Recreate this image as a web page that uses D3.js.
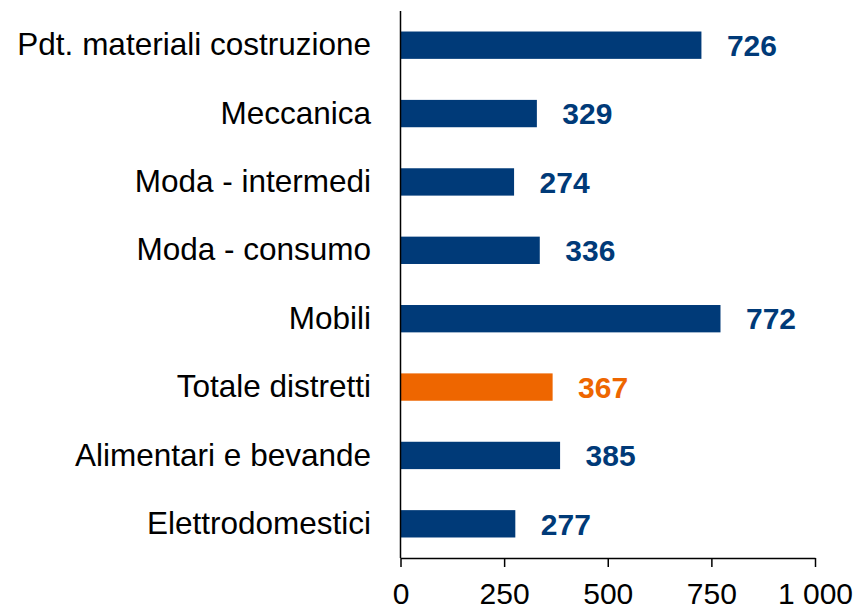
<!DOCTYPE html>
<html><head><meta charset="utf-8">
<script src="https://cdn.jsdelivr.net/npm/d3@7"></script>
<style>body{margin:0;background:#fff}svg{display:block}</style>
</head><body>
<script>
const categories = ["Pdt. materiali costruzione","Meccanica","Moda - intermedi","Moda - consumo","Mobili","Totale distretti","Alimentari e bevande","Elettrodomestici"];
const values = [726,329,274,336,772,367,385,277];
const highlight = ["Totale distretti"];
const tickValues = [0,250,500,750,1000];

const W=856,H=609;
const svg=d3.select("body").append("svg").attr("width",W).attr("height",H);
const x=d3.scaleLinear().domain([0,1000]).range([400.5,815]);
const y=d3.scaleBand().domain(categories).range([11,558]).paddingInner(0.6).paddingOuter(0.3);
const font="Liberation Sans, Arial, sans-serif";
const blue="#003A78", orange="#EE6600";

svg.selectAll("rect.bar").data(categories).join("rect")
  .attr("x",x(0)).attr("y",d=>y(d)).attr("height",y.bandwidth())
  .attr("width",(d,i)=>x(values[i])-x(0))
  .attr("fill",d=>highlight.includes(d)?orange:blue);

svg.selectAll("text.val").data(categories).join("text")
  .attr("x",(d,i)=>x(values[i])+25.5).attr("y",d=>y(d)+y.bandwidth()/2)
  .attr("dy","0.36em").attr("font-family",font).attr("font-weight","bold").attr("font-size",30)
  .attr("fill",d=>highlight.includes(d)?orange:blue)
  .text((d,i)=>values[i]);

svg.selectAll("text.cat").data(categories).join("text")
  .attr("x",371).attr("y",d=>y(d)+y.bandwidth()/2).attr("dy","0.32em")
  .attr("text-anchor","end").attr("font-family",font).attr("font-size",31.5).attr("fill","#000")
  .text(d=>d);

const xa=svg.append("g").attr("transform","translate(0,558)")
  .call(d3.axisBottom(x).tickValues(tickValues).tickSize(9).tickSizeOuter(0).tickPadding(16)
    .tickFormat(d=>d===1000?"1 000":d));
xa.select(".domain").attr("stroke","#000").attr("stroke-width",1.5);
xa.selectAll(".tick line").attr("stroke","#000").attr("stroke-width",1.5);
xa.selectAll(".tick text").attr("font-family",font).attr("font-size",30).attr("fill","#000");

svg.append("line").attr("x1",x(0)).attr("x2",x(0)).attr("y1",11).attr("y2",558)
  .attr("stroke","#000").attr("stroke-width",1.5);
</script>
</body></html>
